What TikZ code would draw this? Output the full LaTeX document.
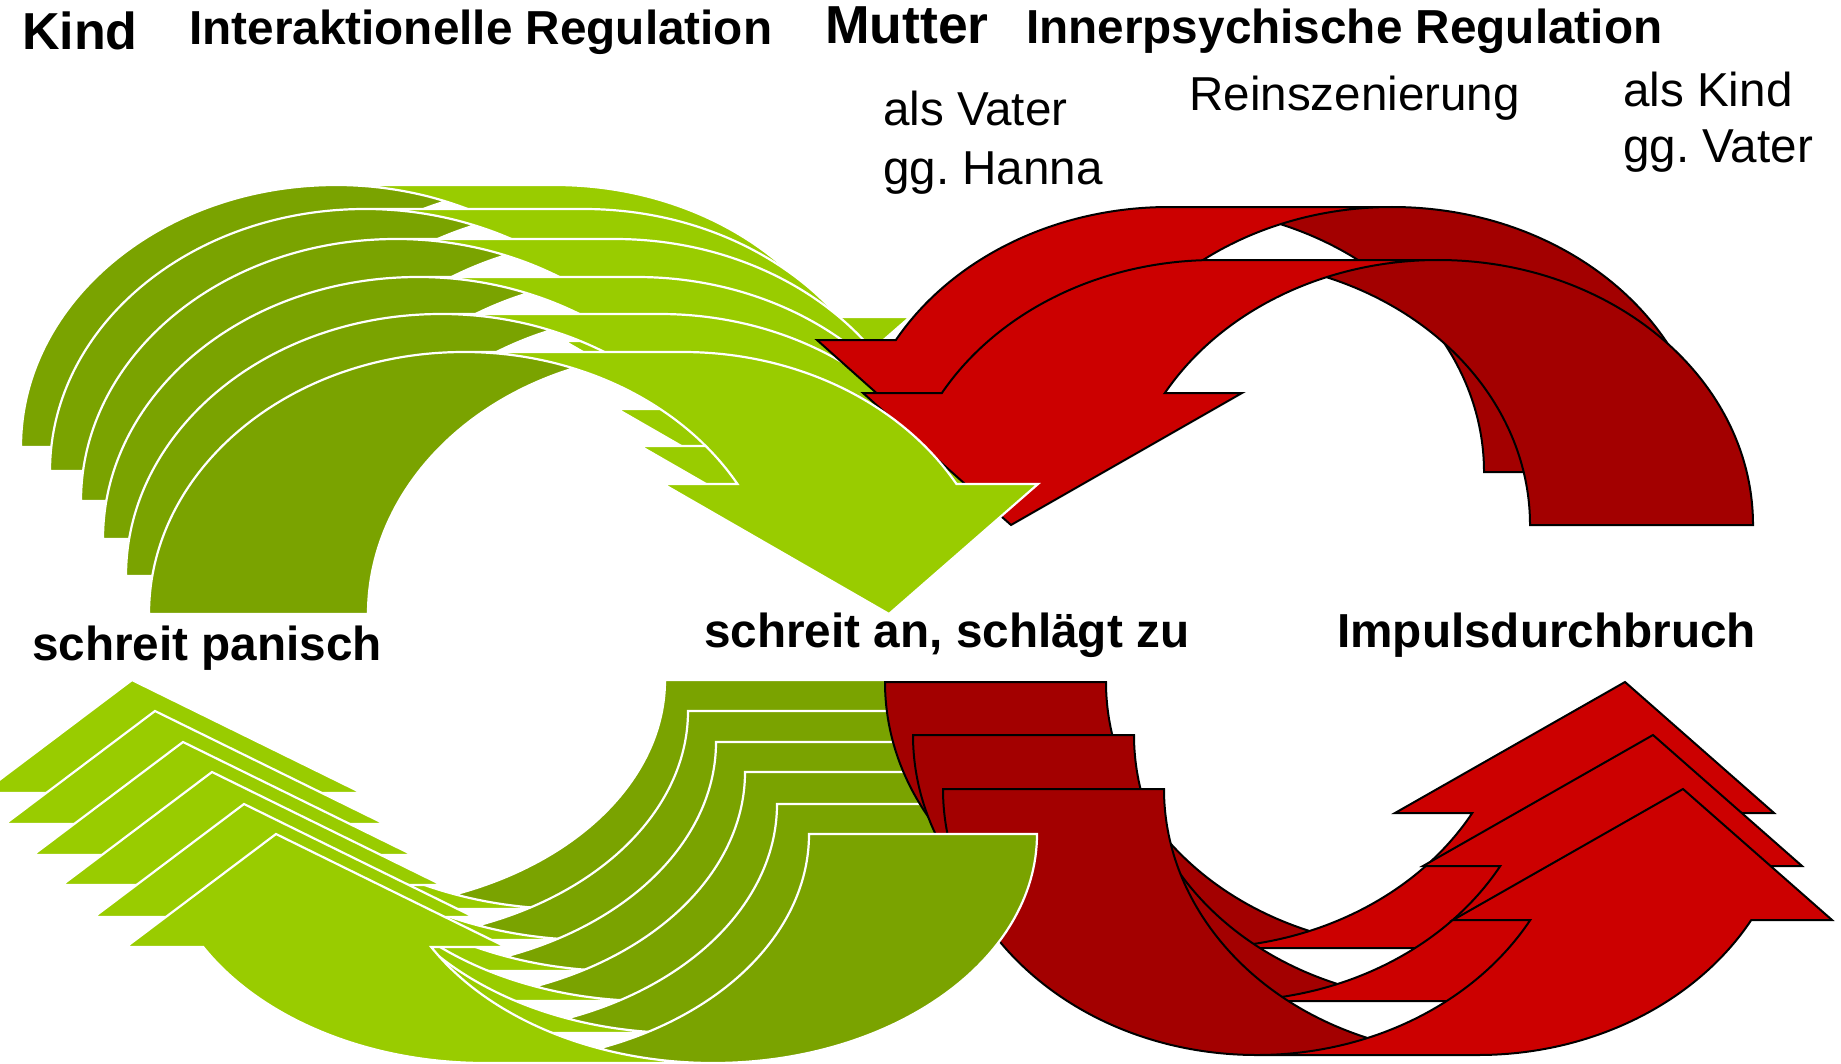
\documentclass[tikz,border=0pt]{standalone}
\usepackage{fontspec}
\setmainfont{Liberation Sans}
\definecolor{GLight}{HTML}{99CC00}
\definecolor{GDark}{HTML}{7AA300}
\definecolor{RLight}{HTML}{CC0000}
\definecolor{RDark}{HTML}{A30000}
\tikzset{
  gdark/.style={fill=GDark},
  glight/.style={fill=GLight},
  gline/.style={draw=white,line width=2.2pt},
  rdark/.style={fill=RDark},
  rlight/.style={fill=RLight},
  rline/.style={draw=black,line width=2pt},
  head/.style={anchor=base west,inner sep=0pt,font=\fontsize{47.7}{57}\selectfont\bfseries},
  bighead/.style={anchor=base west,inner sep=0pt,font=\fontsize{52}{60}\selectfont\bfseries},
  note/.style={anchor=base west,inner sep=0pt,font=\fontsize{47.6}{57}\selectfont},
}
% curved arrow: #1,#2 origin (outer corner of the leg), #3 xscale, #4 yscale, #5 style prefix
\newcommand\CurvArrow[5]{%
  \begin{scope}[shift={(#1,#2)},xscale=#3,yscale=#4]
    \pgfmathsetmacro\aPhi{asin(\aA/\aH)}
    \pgfmathsetmacro\aXfive{\aW+\aW*cos(\aPhi)}
    \pgfmathsetmacro\aPsi{acos(-\aT/(2*\aW))}
    \pgfmathsetmacro\aIx{\aW+\aT/2}
    \pgfmathsetmacro\aIy{\aH*sin(\aPsi)}
    \pgfmathsetmacro\aRt{\aW+\aT}
    \fill[#5dark] (\aT,0) -- (0,0)
      arc[start angle=180,end angle=90,x radius=\aW,y radius=\aH]
      -- (\aRt,\aH)
      arc[start angle=90,end angle=180,x radius=\aW,y radius=\aH] -- cycle;
    \fill[#5light] (\aXs,0) -- (\aXf,\aA) -- (\aXfive,\aA)
      arc[start angle=\aPhi,end angle=90,x radius=\aW,y radius=\aH]
      -- (\aRt,\aH)
      arc[start angle=90,end angle=\aPhi,x radius=\aW,y radius=\aH]
      -- (\aXe,\aA) -- cycle;
    \draw[#5line] (\aIx,\aIy)
      arc[start angle=\aPsi,end angle=180,x radius=\aW,y radius=\aH]
      -- (0,0)
      arc[start angle=180,end angle=90,x radius=\aW,y radius=\aH]
      -- (\aRt,\aH)
      arc[start angle=90,end angle=\aPhi,x radius=\aW,y radius=\aH]
      -- (\aXe,\aA) -- (\aXs,0) -- (\aXf,\aA) -- (\aXfive,\aA)
      arc[start angle=\aPhi,end angle=90,x radius=\aW,y radius=\aH];
  \end{scope}}
\newcommand\TopRedShape{\def\aW{315}\def\aT{223}\def\aH{265}\def\aA{132}\def\aXf{511}\def\aXs{742}\def\aXe{890}}
\newcommand\TopGreenShape{\def\aW{315}\def\aT{219}\def\aH{262}\def\aA{130}\def\aXf{514}\def\aXs{740}\def\aXe{889}}
\newcommand\BotRedShape{\def\aW{314}\def\aT{221}\def\aH{266}\def\aA{131}\def\aXf{510}\def\aXs{740}\def\aXe{889}}
\newcommand\BotGreenShape{\def\aW{324}\def\aT{228}\def\aH{229}\def\aA{113}\def\aXf{531}\def\aXs{761}\def\aXe{911}}
\begin{document}
\frenchspacing
\begin{tikzpicture}[x=1pt,y=-1pt]
\useasboundingbox (0,0) rectangle (1841,1063);
\clip (0,0) rectangle (1841,1063);
% ---- top green, back copies
\TopGreenShape
\CurvArrow{21}{447}{1}{-1}{g}
\CurvArrow{50}{471}{1}{-1}{g}
\CurvArrow{81}{501}{1}{-1}{g}
\CurvArrow{103}{539}{1}{-1}{g}
\CurvArrow{126}{576}{1}{-1}{g}
% ---- top red (Innerpsychische Regulation)
\TopRedShape
\CurvArrow{1707}{472}{-1}{-1}{r}
\CurvArrow{1753}{525}{-1}{-1}{r}
% ---- top green, front copy
\TopGreenShape
\CurvArrow{149}{614}{1}{-1}{g}
% ---- bottom green, back copies
\BotGreenShape
\CurvArrow{893}{680}{-1}{1}{g}
\CurvArrow{916}{711}{-1}{1}{g}
\CurvArrow{944}{742}{-1}{1}{g}
\CurvArrow{973}{772}{-1}{1}{g}
\CurvArrow{1005}{804}{-1}{1}{g}
% ---- bottom red (Impulsdurchbruch)
\BotRedShape
\CurvArrow{885}{682}{1}{1}{r}
\CurvArrow{913}{735}{1}{1}{r}
\CurvArrow{943}{789}{1}{1}{r}
% ---- bottom green, front copy
\BotGreenShape
\CurvArrow{1037}{834}{-1}{1}{g}
% ---- texts
\node[bighead] (kind) at (22,49) {Kind};
\node[head] (interakt) at (189,44) {Interaktionelle Regulation};
\node[bighead,font=\fontsize{53.5}{60}\selectfont\bfseries] (mutter) at (825,43) {Mutter};
\node[head] (innerpsy) at (1026,43) {Innerpsychische Regulation};
\node[note] (alsvater) at (883,125) {als Vater};
\node[note] (gghanna) at (883,184) {gg. Hanna};
\node[note] (reinsz) at (1189,110) {Reinszenierung};
\node[note] (alskind) at (1623,106) {als Kind};
\node[note] (ggvater) at (1623,162) {gg. Vater};
\node[head] (panisch) at (32,660) {schreit panisch};
\node[head] (schlaegt) at (704,647) {schreit an, schlägt zu};
\node[head] (impuls) at (1337,647) {Impulsdurchbruch};
\end{tikzpicture}
\end{document}
